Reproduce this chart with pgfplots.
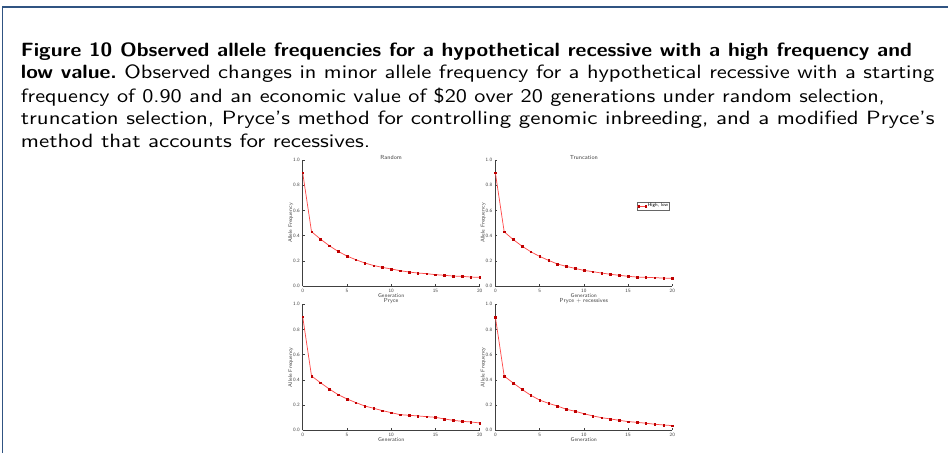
\documentclass[border=0pt]{standalone}
\usepackage{fontspec}
\usepackage{graphicx}
\usepackage{pgfplots}
\pgfplotsset{compat=1.18}
\newfontfamily\capfont{lmsans10-regular.otf}[BoldFont=lmsans10-bold.otf]
\newcommand{\bsc}[1]{\scalebox{1.1}[1]{#1}}
\definecolor{framec}{RGB}{48,84,130}
\definecolor{linec}{RGB}{255,75,75}
\definecolor{markc}{RGB}{190,0,0}
\pgfplotstableread{
g r t p q
0 0.900 0.900 0.902 0.900
1 0.431 0.430 0.431 0.430
2 0.373 0.370 0.378 0.376
3 0.320 0.317 0.328 0.325
4 0.275 0.272 0.283 0.278
5 0.238 0.235 0.249 0.240
6 0.209 0.204 0.220 0.214
7 0.183 0.175 0.193 0.193
8 0.163 0.156 0.175 0.167
9 0.148 0.140 0.156 0.151
10 0.135 0.124 0.140 0.132
11 0.122 0.114 0.124 0.114
12 0.111 0.103 0.119 0.100
13 0.103 0.093 0.114 0.090
14 0.098 0.085 0.108 0.079
15 0.090 0.077 0.103 0.069
16 0.085 0.071 0.090 0.063
17 0.079 0.069 0.079 0.056
18 0.077 0.066 0.071 0.048
19 0.071 0.063 0.066 0.042
20 0.069 0.061 0.058 0.037
}\data
\pgfplotsset{
  ser/.style={color=linec, line width=0.55pt, mark=square*, mark size=0.6pt, mark options={fill=markc, draw=markc, line width=0.2pt}},
  small/.style={
    scale only axis, width=132.75pt, height=94.5pt, anchor=south west,
    xmin=0, xmax=20, ymin=0, ymax=1,
    axis lines=left, axis line style={-, black!75, line width=0.4pt},
    xtick={0,5,10,15,20}, ytick={0,0.2,0.4,0.6,0.8,1.0},
    yticklabel style={/pgf/number format/fixed, /pgf/number format/fixed zerofill, /pgf/number format/precision=1, xshift=1.3pt},
    /pgf/number format/assume math mode=true,
    tick align=inside, major tick length=1.5pt,
    tick style={black!75, line width=0.3pt},
    tick label style={font=\sffamily\fontsize{3.7}{4}\selectfont, text=black!75},
    xticklabel style={yshift=1.3pt},
    label style={font=\sffamily\fontsize{4.1}{4}\selectfont, text=black!75},
    xlabel={Generation}, ylabel={Allele Frequency},
    xlabel style={yshift=6.3pt},
    ylabel style={yshift=-7.0pt},
    title style={font=\sffamily\fontsize{4.4}{4}\selectfont, text=black!75, yshift=-9.0pt},
    clip=false,
  }
}
\begin{document}
\begin{tikzpicture}
\path[use as bounding box] (0,0) rectangle (711pt,-339.75pt);
\draw[framec, line width=1.1pt] (1.875pt,-339.75pt) -- (1.875pt,-5.25pt) -- (711pt,-5.25pt);
\begin{scope}[every node/.style={anchor=base west, inner sep=0pt, font=\capfont\fontsize{14.4}{16}\selectfont}]
\node at (15.5pt,-42pt) {\bsc{\bfseries Figure 10 Observed allele frequencies for a hypothetical recessive with a high frequency and}};
\node at (15.5pt,-59.25pt) {\bsc{\bfseries low value.}\scalebox{1.17}[1]{ Observed changes in minor allele frequency for a hypothetical recessive with a starting}};
\node at (15.5pt,-76.5pt) {\scalebox{1.157}[1]{frequency of 0.90 and an economic value of \$20 over 20 generations under random selection,}};
\node at (15.5pt,-93.5pt) {\scalebox{1.19}[1]{truncation selection, Pryce’s method for controlling genomic inbreeding, and a modified Pryce’s}};
\node at (15.5pt,-110.5pt) {\scalebox{1.195}[1]{method that accounts for recessives.}};
\end{scope}
\begin{axis}[small, at={(227pt,-214.5pt)}, title={Random}]
\addplot[ser] table[x=g, y=r] {\data};
\end{axis}
\begin{axis}[small, at={(371.5pt,-214.5pt)}, title={Truncation},
  legend style={font=\sffamily\fontsize{3.6}{3.8}\selectfont, at={(0.983,0.665)}, anchor=north east, draw=black!60, line width=0.3pt, inner sep=0.3pt, nodes={inner sep=0.5pt}, row sep=-0.5pt},
  legend image code/.code={\draw[#1, line width=0.55pt, mark=none] (0pt,0pt) -- (7pt,0pt); \draw[#1, draw=none] plot coordinates {(1pt,0pt) (6pt,0pt)};}]
\addplot[ser] table[x=g, y=t] {\data};
\addlegendentry{High, low}
\end{axis}
\begin{axis}[small, at={(227pt,-322.7pt)}, title={Pryce}]
\addplot[ser] table[x=g, y=p] {\data};
\end{axis}
\begin{axis}[small, at={(371.5pt,-322.7pt)}, title={Pryce + recessives}]
\addplot[ser] table[x=g, y=q] {\data};
\end{axis}
\end{tikzpicture}
\end{document}
